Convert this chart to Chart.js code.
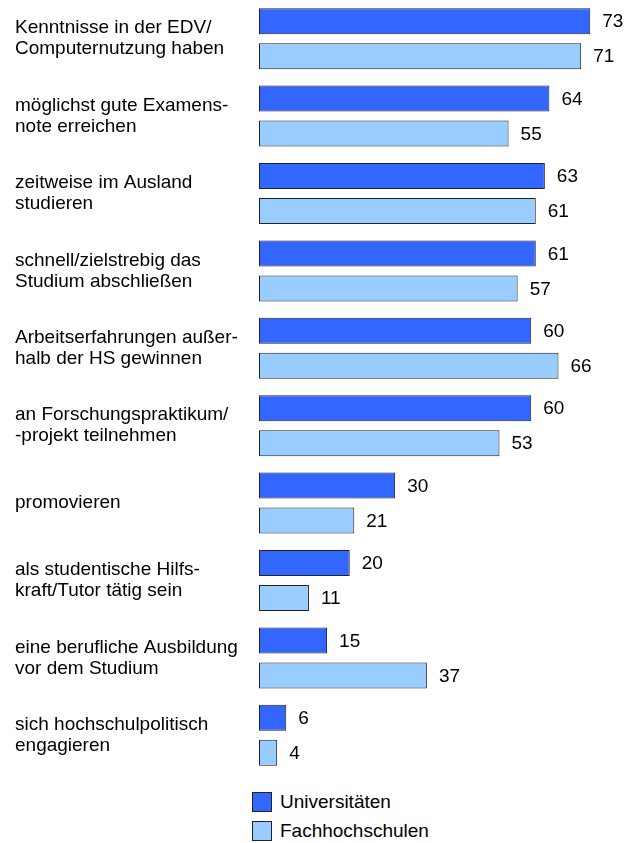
<!DOCTYPE html>
<html>
<head>
<meta charset="utf-8">
<script src="https://cdn.jsdelivr.net/npm/chart.js@4"></script>
<style>
  body { margin: 0; background: #fff; }
  #wrap { position: relative; width: 628px; height: 843px; }
  #legend { position: absolute; left: 252px; top: 792px; font: 19px Arial, "Liberation Sans", sans-serif; color: #000; }
  .item { display: flex; align-items: center; height: 20px; margin-bottom: 9px; }
  .box { width: 20px; height: 20px; border: 1px solid #222; margin-right: 8px; box-sizing: border-box; }
</style>
</head>
<body>
<div id="wrap">
  <canvas id="myChart" width="628" height="774"></canvas>
  <div id="legend"></div>
</div>
<script>
'use strict'

// DATA
const categories = [
  ['Kenntnisse in der EDV/', 'Computernutzung haben'],
  ['möglichst gute Examens-', 'note erreichen'],
  ['zeitweise im Ausland', 'studieren'],
  ['schnell/zielstrebig das', 'Studium abschließen'],
  ['Arbeitserfahrungen außer-', 'halb der HS gewinnen'],
  ['an Forschungspraktikum/', '-projekt teilnehmen'],
  'promovieren',
  ['als studentische Hilfs-', 'kraft/Tutor tätig sein'],
  ['eine berufliche Ausbildung', 'vor dem Studium'],
  ['sich hochschulpolitisch', 'engagieren']
];
const seriesNames = ['Universitäten', 'Fachhochschulen'];
const universitaeten = [73, 64, 63, 61, 60, 60, 30, 20, 15, 6];
const fachhochschulen = [71, 55, 61, 57, 66, 53, 21, 11, 37, 4];

const colors = ['#3366FF', '#99CCFF'];
const FONT = 'Arial, "Liberation Sans", sans-serif';

// value labels right of each bar
const valueLabels = {
  id: 'valueLabels',
  afterDatasetsDraw(chart) {
    let ctx = chart.ctx;
    ctx.save();
    ctx.font = '19px ' + FONT;
    ctx.fillStyle = '#000';
    ctx.textAlign = 'left';
    ctx.textBaseline = 'middle';
    chart.data.datasets.forEach((ds, i) => {
      chart.getDatasetMeta(i).data.forEach((bar, j) => {
        ctx.fillText(ds.data[j], bar.x + 12, bar.y + 1);
      });
    });
    ctx.restore();
  }
};

const config = {
  type: 'bar',
  data: {
    labels: categories,
    datasets: [
      {
        label: seriesNames[0],
        data: universitaeten,
        backgroundColor: colors[0],
        borderColor: '#222',
        borderWidth: 1,
        borderSkipped: false
      },
      {
        label: seriesNames[1],
        data: fachhochschulen,
        backgroundColor: colors[1],
        borderColor: '#222',
        borderWidth: 1,
        borderSkipped: false
      }
    ]
  },
  options: {
    indexAxis: 'y',
    responsive: false,
    animation: false,
    categoryPercentage: 0.904,
    barPercentage: 0.743,
    layout: { padding: { left: 15, right: 6, top: 0, bottom: 0 } },
    plugins: {
      legend: { display: false },
      tooltip: { enabled: false }
    },
    scales: {
      x: {
        display: false,
        min: 0,
        max: 80
      },
      y: {
        grid: { display: false },
        border: { display: false },
        afterFit(scale) {
          scale.width = 244;
          // labels may stick out, bars fill the whole height
          scale.paddingTop = 0;
          scale.paddingBottom = 0;
        },
        ticks: {
          crossAlign: 'far',
          color: '#000',
          font: { family: FONT, size: 19, lineHeight: 1.1 }
        }
      }
    }
  },
  plugins: [valueLabels]
};

let canvasChart = document.getElementById('myChart');
const myChart = new Chart(canvasChart, config);

// legend, stacked like the original
let legend = document.getElementById('legend');
for (let i = 0; i < seriesNames.length; i++) {
  let item = document.createElement('div');
  item.className = 'item';
  let box = document.createElement('span');
  box.className = 'box';
  box.style.background = colors[i];
  let txt = document.createElement('span');
  txt.textContent = seriesNames[i];
  item.appendChild(box);
  item.appendChild(txt);
  legend.appendChild(item);
}
</script>
</body>
</html>
